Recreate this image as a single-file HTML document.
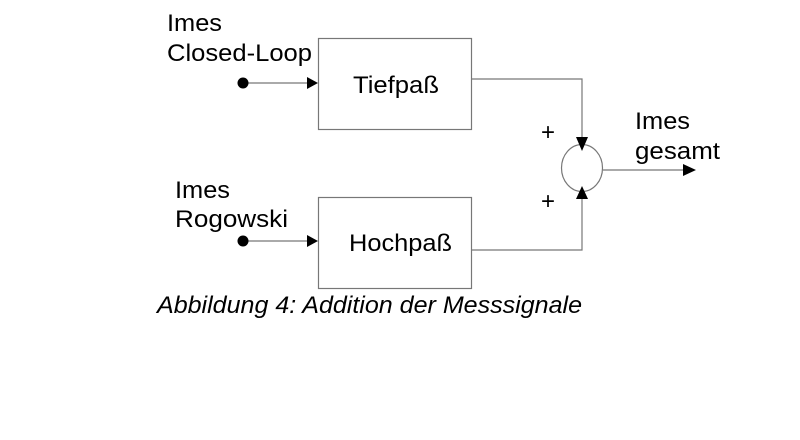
<!DOCTYPE html>
<html><head><meta charset="utf-8"><style>html,body{margin:0;padding:0;background:#fff}</style></head>
<body>
<svg width="800" height="435" viewBox="0 0 800 435" xmlns="http://www.w3.org/2000/svg" font-family="Liberation Sans, sans-serif" fill="#000">
<rect x="0" y="0" width="800" height="435" fill="#fff"/>
<g stroke="#777" stroke-width="1.2" fill="none">
<rect x="318.5" y="38.5" width="153" height="91"/>
<rect x="318.5" y="197.5" width="153" height="91"/>
<ellipse cx="582" cy="168" rx="20.5" ry="23.5"/>
<path d="M471 79 H582 V140 M471 250 H582 V195 M603 170 H683 M243 83 H308 M243 241 H308"/>
</g>
<g fill="#000">
<circle cx="243" cy="83" r="5.5"/>
<circle cx="243" cy="241" r="5.5"/>
<path d="M307 77 L318 83 L307 89Z"/>
<path d="M307 235 L318 241 L307 247Z"/>
<path d="M576 137 L588 137 L582 151Z"/>
<path d="M576 199 L588 199 L582 186Z"/>
<path d="M683 164 L696 170 L683 176Z"/>
</g>
<g font-size="24">
<text x="167" y="31" textLength="55" lengthAdjust="spacingAndGlyphs">Imes</text>
<text x="167" y="61" textLength="145" lengthAdjust="spacingAndGlyphs">Closed-Loop</text>
<text x="353" y="93" textLength="86" lengthAdjust="spacingAndGlyphs">Tiefpaß</text>
<text x="175" y="198" textLength="55" lengthAdjust="spacingAndGlyphs">Imes</text>
<text x="175" y="227" textLength="113" lengthAdjust="spacingAndGlyphs">Rogowski</text>
<text x="349" y="251" textLength="103" lengthAdjust="spacingAndGlyphs">Hochpaß</text>
<text x="635" y="129" textLength="55" lengthAdjust="spacingAndGlyphs">Imes</text>
<text x="635" y="159" textLength="85" lengthAdjust="spacingAndGlyphs">gesamt</text>
<text x="541" y="140">+</text>
<text x="541" y="209">+</text>
<text x="157" y="313" font-style="italic" textLength="425" lengthAdjust="spacingAndGlyphs">Abbildung 4: Addition der Messsignale</text>
</g>
</svg>
</body></html>
